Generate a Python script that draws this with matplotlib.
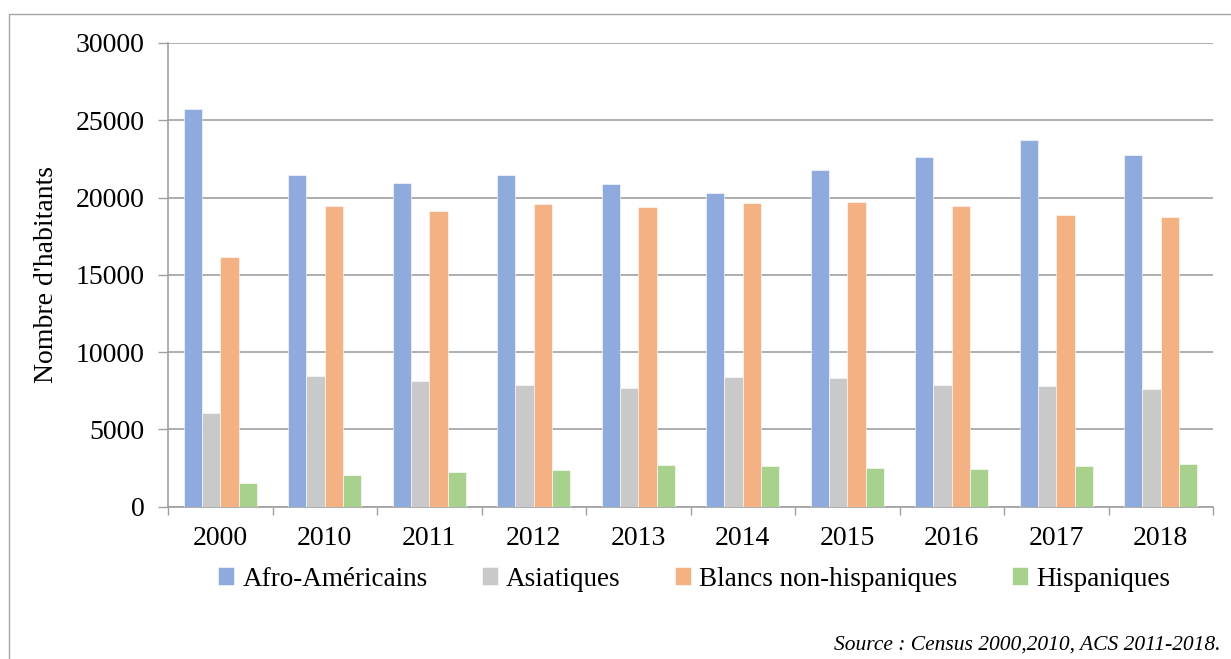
import numpy as np
import matplotlib.pyplot as plt
from matplotlib.patches import Rectangle

annees = ['2000', '2010', '2011', '2012', '2013', '2014', '2015', '2016', '2017', '2018']
afro = [25700, 21450, 20950, 21450, 20900, 20300, 21750, 22650, 23700, 22750]
asiat = [6030, 8460, 8140, 7880, 7690, 8400, 8310, 7840, 7820, 7600]
blancs = [16170, 19460, 19140, 19550, 19400, 19640, 19720, 19420, 18860, 18750]
hisp = [1490, 2020, 2260, 2350, 2710, 2600, 2520, 2430, 2650, 2730]

series = ['Afro-Américains', 'Asiatiques', 'Blancs non-hispaniques', 'Hispaniques']
couleurs = ['#8FAADC', '#C9C9C9', '#F4B183', '#A9D18E']

plt.rcParams['font.family'] = ['Liberation Serif', 'DejaVu Serif']

fig = plt.figure(figsize=(12.31, 6.59), dpi=100)
ax = fig.add_axes([168 / 1231, 1 - 506.5 / 659, 1045 / 1231, 463.5 / 659])

x = np.arange(len(annees))
w = 0.175
for i, (vals, c, nom) in enumerate(zip([afro, asiat, blancs, hisp], couleurs, series)):
    ax.bar(x + (i - 1.5) * w, vals, w, color=c, label=nom, zorder=3,
           edgecolor='white', linewidth=0.4)

ax.set_xlim(-0.5, len(annees) - 0.5)
ax.set_ylim(0, 30000)
ax.set_yticks(np.arange(0, 30001, 5000))
ax.set_xticks(x)
ax.set_xticklabels(annees)
ax.set_xticks(np.arange(-0.5, len(annees), 1), minor=True)
ax.tick_params(axis='x', which='major', length=0, labelsize=20, pad=14)
ax.tick_params(axis='x', which='minor', length=6, color='#a0a0a0', width=1)
ax.tick_params(axis='y', length=7, color='#a0a0a0', width=1, labelsize=20, pad=10)
ax.grid(axis='y', color='#a0a0a0', linewidth=1.2, zorder=0)
for s in ['top', 'right']:
    ax.spines[s].set_visible(False)
for s in ['left', 'bottom']:
    ax.spines[s].set_color('#a0a0a0')
    ax.spines[s].set_linewidth(1.2)

ax.set_ylabel("Nombre d'habitants", fontsize=20)
ax.yaxis.set_label_coords(-0.104, 0.5)

fig.legend(loc='center', bbox_to_anchor=(694 / 1231, 1 - 579 / 659), ncol=4,
           frameon=False, fontsize=19.5, handlelength=0.6, handleheight=0.6,
           handletextpad=0.3, columnspacing=2.0)

fig.text(1220 / 1231, 1 - 645 / 659, 'Source : Census 2000,2010, ACS 2011-2018.',
         ha='right', va='center', fontsize=15.5, style='italic')

fig.patches.append(Rectangle((9 / 1231, -0.1), 1.2, 1.1 - 14 / 659,
                             transform=fig.transFigure, fill=False,
                             edgecolor='#a6a6a6', linewidth=1))

fig.savefig('out.png', dpi=100)
